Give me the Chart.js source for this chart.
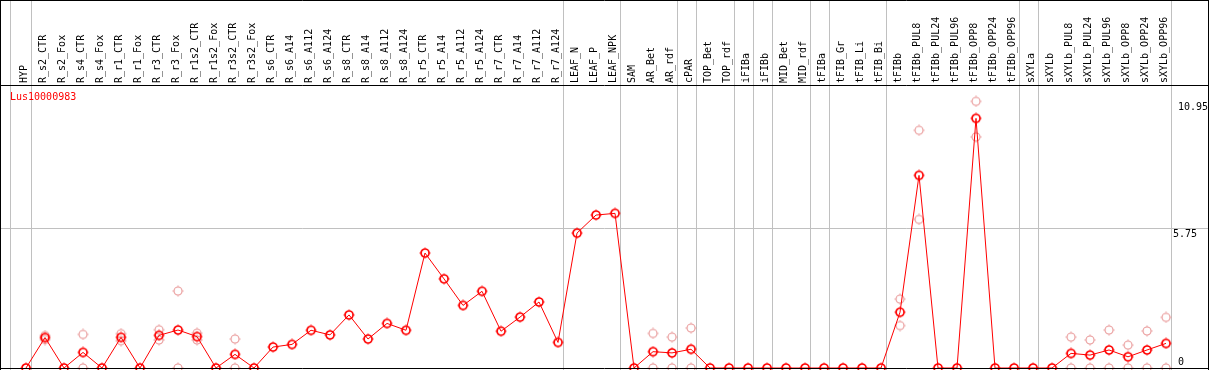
<!DOCTYPE html>
<html>
<head>
<meta charset="utf-8">
<script src="https://cdn.jsdelivr.net/npm/chart.js@4.4.0/dist/chart.umd.min.js"></script>
<style>
  html, body { margin: 0; padding: 0; background: #fff; }
  #wrap { width: 1209px; height: 370px; }
</style>
</head>
<body>
<div id="wrap"><canvas id="exprChart" width="1209" height="370"></canvas></div>
<script>
const categories = [
    'HYP', 'R_s2_CTR', 'R_s2_Fox', 'R_s4_CTR', 'R_s4_Fox', 'R_r1_CTR', 'R_r1_Fox', 'R_r3_CTR', 'R_r3_Fox',
    'R_r1s2_CTR', 'R_r1s2_Fox', 'R_r3s2_CTR', 'R_r3s2_Fox', 'R_s6_CTR', 'R_s6_A14', 'R_s6_A112', 'R_s6_A124',
    'R_s8_CTR', 'R_s8_A14', 'R_s8_A112', 'R_s8_A124', 'R_r5_CTR', 'R_r5_A14', 'R_r5_A112', 'R_r5_A124',
    'R_r7_CTR', 'R_r7_A14', 'R_r7_A112', 'R_r7_A124', 'LEAF_N', 'LEAF_P', 'LEAF_NPK', 'SAM', 'AR_Bet', 'AR_rdf',
    'cPAR', 'TOP_Bet', 'TOP_rdf', 'iFIBa', 'iFIBb', 'MID_Bet', 'MID_rdf', 'tFIBa', 'tFIB_Gr', 'tFIB_Li', 'tFIB_Bi',
    'tFIBb', 'tFIBb_PUL8', 'tFIBb_PUL24', 'tFIBb_PUL96', 'tFIBb_OPP8', 'tFIBb_OPP24', 'tFIBb_OPP96',
    'sXYLa', 'sXYLb', 'sXYLb_PUL8', 'sXYLb_PUL24', 'sXYLb_PUL96', 'sXYLb_OPP8', 'sXYLb_OPP24', 'sXYLb_OPP96'
];

// mean expression (red line)
const meanValues = [
    0, 1.25, 0, 0.64, 0, 1.26, 0, 1.34, 1.56, 1.29, 0, 0.56, 0, 0.86, 0.97, 1.55, 1.36,
    2.18, 1.19, 1.83, 1.55, 4.72, 3.66, 2.57, 3.15, 1.51, 2.09, 2.71, 1.05, 5.54, 6.28, 6.35,
    0, 0.67, 0.62, 0.77, 0, 0, 0, 0, 0, 0, 0, 0, 0, 0,
    2.29, 7.91, 0, 0, 10.25, 0, 0, 0, 0, 0.60, 0.53, 0.74, 0.46, 0.74, 1.01
];

// replicate values (pink circles), null where not shown
const repHigh = [
    null, 1.33, null, 1.38, null, 1.41, null, 1.57, 3.16, 1.43, null, 1.19, null, null, null, null, null,
    null, null, null, null, null, null, null, null, null, null, null, null, null, null, null,
    null, 1.42, 1.27, 1.64, null, null, null, null, null, null, null, null, null, null,
    2.83, 9.76, null, null, 10.95, null, null, null, null, 1.27, 1.15, 1.56, 0.94, 1.52, 2.08
];
const repLow = [
    null, 1.17, null, 0, null, 1.12, null, 1.15, 0, 1.15, null, 0, null, null, null, null, null,
    null, null, null, null, null, null, null, null, null, null, null, null, null, null, null,
    null, 0, 0, 0, null, null, null, null, null, null, null, null, null, null,
    1.74, 6.10, null, null, 9.49, null, null, null, null, 0, 0, 0, 0, 0, 0
];

const yTickLabels = ['0', '5.75', '10.95'];
const yTickValues = [0, 5.75, 10.95];
// separators drawn after these category indexes
const groupBreaks = [-1.1, 0, 28, 31, 34, 35, 37, 38, 39, 41, 42, 45, 52, 53, 60];
const geneName = 'Lus10000983';

const MONO = '"DejaVu Sans Mono", "Liberation Mono", monospace';

function makeMarker(color, lw) {
    const c = document.createElement('canvas');
    c.width = 12;
    c.height = 12;
    const g = c.getContext('2d');
    g.strokeStyle = color;
    g.lineWidth = lw;
    g.beginPath();
    g.arc(6, 6, 4, 0, Math.PI * 2);
    g.stroke();
    // little ticks just outside the ring
    g.fillStyle = color;
    g.fillRect(5.5, 0.5, 1, 1.2);
    g.fillRect(5.5, 10.3, 1, 1.2);
    g.fillRect(0.5, 5.5, 1.2, 1);
    g.fillRect(10.3, 5.5, 1.2, 1);
    return c;
}

const framePlugin = {
    id: 'frame',
    beforeDatasetsDraw(chart) {
        const ctx = chart.ctx;
        const xs = chart.scales.x;
        const ys = chart.scales.y;
        ctx.save();
        ctx.fillStyle = '#fff';
        ctx.fillRect(0, 0, chart.width, chart.height);
        ctx.strokeStyle = '#c0c0c0';
        ctx.lineWidth = 1;
        groupBreaks.forEach(b => {
            const x = Math.round(xs.getPixelForValue(b + 0.25)) + 0.5;
            ctx.beginPath();
            ctx.moveTo(x, 0);
            ctx.lineTo(x, chart.height);
            ctx.stroke();
        });
        const ym = Math.round(ys.getPixelForValue(5.75)) + 0.5;
        ctx.beginPath();
        ctx.moveTo(0, ym);
        ctx.lineTo(chart.width, ym);
        ctx.stroke();
        ctx.restore();
    },
    afterDraw(chart) {
        const ctx = chart.ctx;
        const xs = chart.scales.x;
        const ys = chart.scales.y;
        const area = chart.chartArea;
        ctx.save();
        // black frame
        ctx.strokeStyle = '#000';
        ctx.lineWidth = 1;
        ctx.beginPath();
        ctx.moveTo(0, 0.5); ctx.lineTo(chart.width, 0.5);
        ctx.moveTo(0, area.top + 0.5); ctx.lineTo(chart.width, area.top + 0.5);
        ctx.moveTo(0, 368.5); ctx.lineTo(chart.width, 368.5);
        ctx.moveTo(0.5, 0); ctx.lineTo(0.5, chart.height);
        ctx.moveTo(1208.5, 0); ctx.lineTo(1208.5, chart.height);
        ctx.stroke();

        // rotated category labels
        ctx.fillStyle = '#000';
        ctx.font = '10px ' + MONO;
        ctx.textAlign = 'left';
        ctx.textBaseline = 'middle';
        categories.forEach((name, i) => {
            const x = xs.getPixelForValue(i) - 2;
            ctx.save();
            ctx.translate(x, area.top - 2);
            ctx.rotate(-Math.PI / 2);
            ctx.fillText(name, 0, 0);
            ctx.restore();
        });

        // gene name
        ctx.fillStyle = '#ff0000';
        ctx.font = '10px ' + MONO;
        ctx.textBaseline = 'middle';
        ctx.fillText(geneName, 10, 97);

        // value labels on the right
        ctx.fillStyle = '#000';
        yTickValues.forEach((v, k) => {
            const y = ys.getPixelForValue(v);
            if (v === 0) {
                ctx.textBaseline = 'bottom';
                ctx.fillText(yTickLabels[k], 1178, y - 1);
            } else if (v === 5.75) {
                ctx.textBaseline = 'top';
                ctx.fillText(yTickLabels[k], 1173, y + 1);
            } else {
                ctx.textBaseline = 'top';
                ctx.fillText(yTickLabels[k], 1178, y + 1);
            }
        });
        ctx.restore();
    }
};

window.onload = function() {
    const redMarker = makeMarker('#ff0000', 1.7);
    const pinkMarker = makeMarker('#e89494', 1.1);

    const toPoints = arr => arr
        .map((v, i) => (v === null ? null : { x: i, y: v }))
        .filter(p => p !== null);

    const ctx = document.getElementById('exprChart').getContext('2d');
    const exprChart = new Chart(ctx, {
        type: 'line',
        data: {
            datasets: [{
                label: geneName,
                data: meanValues.map((v, i) => ({ x: i, y: v })),
                borderColor: '#ff0000',
                borderWidth: 1,
                pointStyle: redMarker,
                clip: false,
                order: 0
            }, {
                type: 'scatter',
                label: 'rep1',
                data: toPoints(repHigh),
                pointStyle: pinkMarker,
                showLine: false,
                clip: false,
                order: 1
            }, {
                type: 'scatter',
                label: 'rep2',
                data: toPoints(repLow),
                pointStyle: pinkMarker,
                showLine: false,
                clip: false,
                order: 2
            }]
        },
        options: {
            responsive: false,
            devicePixelRatio: 1,
            animation: false,
            layout: {
                autoPadding: false,
                padding: { left: 1, right: 39, top: 85, bottom: 2 }
            },
            scales: {
                x: {
                    type: 'linear',
                    min: -1.3158,
                    max: 60.21,
                    display: false
                },
                y: {
                    min: 0,
                    max: 11.62,
                    display: false
                }
            },
            plugins: {
                legend: { display: false },
                tooltip: { enabled: false }
            }
        },
        plugins: [framePlugin]
    });
};
</script>
</body>
</html>
